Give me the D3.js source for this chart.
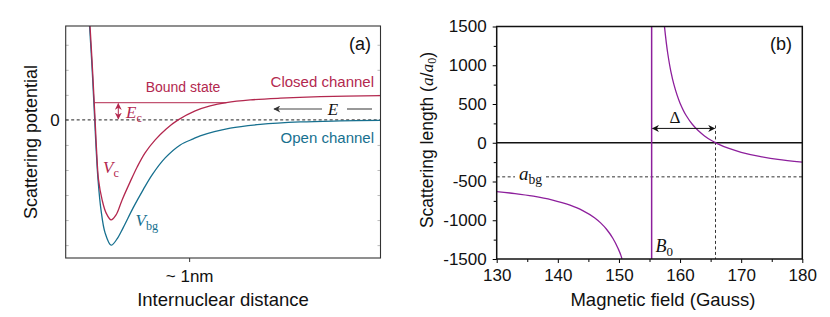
<!DOCTYPE html>
<html>
<head>
<meta charset="UTF-8">
<title>Feshbach resonance</title>
<script src="https://d3js.org/d3.v7.min.js"></script>
<style>
  body { margin: 0; background: #fff; }
  text { font-family: "Liberation Sans", Arial, sans-serif; fill: #111; }
  .serif { font-family: "Liberation Serif", "Times New Roman", serif; }
  .axis text { font-size: 17px; fill: #111; }
</style>
</head>
<body>
<svg id="chart" width="830" height="317"></svg>
<script>
// ---- panel (a): potential curves (r in nm, energy in arb. units) ----
const closedR = [0.197, 0.213, 0.230, 0.238, 0.250, 0.266, 0.295, 0.327, 0.368, 0.408, 0.457, 0.522, 0.579, 0.643, 0.725, 0.814, 0.911, 1.049, 1.170, 1.301, 1.495, 1.739, 2.063, 2.550];
const closedV = [1.02, 0.652, 0.217, 0, -0.326, -0.652, -0.869, -1.010, -1.086, -1.032, -0.869, -0.673, -0.511, -0.358, -0.217, -0.098, 0, 0.098, 0.152, 0.188, 0.217, 0.236, 0.252, 0.264];
const openR = [0.193, 0.210, 0.227, 0.235, 0.247, 0.262, 0.286, 0.319, 0.368, 0.416, 0.465, 0.546, 0.627, 0.700, 0.806, 0.928, 1.033, 1.089, 1.333, 1.576, 1.901, 2.226, 2.550];
const openV = [1.02, 0.652, 0.217, 0, -0.326, -0.652, -0.978, -1.227, -1.361, -1.293, -1.173, -0.956, -0.760, -0.597, -0.413, -0.272, -0.206, -0.174, -0.090, -0.049, -0.022, -0.011, -0.005];
const boundE = 0.188;
const boundR = [0.233, 1.301];
const rTickLabel = "~ 1nm";
const rTick = 1;

// ---- panel (b): scattering length vs field ----
const fieldLeft = [130, 133, 136, 139, 142, 144, 146, 147, 148, 149, 149.8, 150.4, 150.5];
const lengthLeft = [-630, -656, -690, -737, -806, -872, -968, -1034, -1119, -1232, -1354, -1473, -1500];
const fieldRight = [157.45, 158, 158.5, 159, 160, 161, 162, 163, 164, 165, 166, 168, 170, 173, 176, 180];
const lengthRight = [1500, 1145, 918, 749, 511, 352, 239, 154, 88, 35, -8, -74, -123, -176, -214, -250];
const B0 = 155.35;
const zeroCross = 165.8;
const aBg = -440;
const deltaArrowAt = 185;
const fieldTicks = [130, 140, 150, 160, 170, 180];
const fieldMinor = [135, 145, 155, 165, 175];
const lengthTicks = [-1500, -1000, -500, 0, 500, 1000, 1500];
const lengthMinor = [-1250, -750, -250, 250, 750, 1250];

const crimson = "#b3284f";
const teal = "#17708f";
const purple = "#8d1f9c";

const svg = d3.select("#chart");
const defs = svg.append("defs");

function marker(id, color, w, h) {
    defs.append("marker")
        .attr("id", id)
        .attr("viewBox", "0 0 10 10")
        .attr("refX", 9).attr("refY", 5)
        .attr("markerWidth", w).attr("markerHeight", h)
        .attr("orient", "auto-start-reverse")
        .attr("markerUnits", "userSpaceOnUse")
      .append("path")
        .attr("d", "M0,0 L10,5 L0,10 L3,5 Z")
        .attr("fill", color);
}
marker("arrK", "#111", 8, 7);
marker("arrG", "#333", 9, 7);
marker("arrC", crimson, 7, 7);

// ================= panel (a) =================
const xa = d3.scaleLinear().domain([0, 2.55]).range([65.7, 380.5]);
const ya = d3.scaleLinear().domain([-1.5, 1.02]).range([258, 26]);

const ga = svg.append("g");
defs.append("clipPath").attr("id", "clipA")
  .append("rect").attr("x", 65.7).attr("y", 26).attr("width", 314.8).attr("height", 232);

// faint ticks inside the box
const faint = d3.range(-1.36, 1.02, 0.272);
ga.append("g").attr("transform", `translate(${xa(0)},0)`)
    .call(d3.axisRight(ya).tickValues(faint).tickSize(3).tickFormat(""))
    .call(g => g.select(".domain").remove())
    .selectAll("line").attr("stroke", "#bbb");
ga.append("g").attr("transform", `translate(${xa(2.55)},0)`)
    .call(d3.axisLeft(ya).tickValues(faint).tickSize(3).tickFormat(""))
    .call(g => g.select(".domain").remove())
    .selectAll("line").attr("stroke", "#bbb");

// zero line
ga.append("line")
    .attr("x1", xa(0)).attr("x2", xa(2.55))
    .attr("y1", ya(0)).attr("y2", ya(0))
    .attr("stroke", "#222").attr("stroke-width", 1)
    .attr("stroke-dasharray", "3,2.5");

const lineA = d3.line().curve(d3.curveCatmullRom.alpha(0.5));
ga.append("path")
    .attr("clip-path", "url(#clipA)")
    .attr("d", lineA(openR.map((r, i) => [xa(r), ya(openV[i])])))
    .attr("fill", "none").attr("stroke", teal).attr("stroke-width", 1.3);
ga.append("path")
    .attr("clip-path", "url(#clipA)")
    .attr("d", lineA(closedR.map((r, i) => [xa(r), ya(closedV[i])])))
    .attr("fill", "none").attr("stroke", crimson).attr("stroke-width", 1.3);

// bound state level
ga.append("line")
    .attr("x1", xa(boundR[0])).attr("x2", xa(boundR[1]))
    .attr("y1", ya(boundE)).attr("y2", ya(boundE))
    .attr("stroke", crimson).attr("stroke-opacity", 0.8).attr("stroke-width", 1.2);

// E_c double arrow
ga.append("line")
    .attr("x1", 118.3).attr("x2", 118.3)
    .attr("y1", ya(boundE) + 1).attr("y2", ya(0) - 1)
    .attr("stroke", crimson).attr("stroke-width", 1)
    .attr("marker-start", "url(#arrC)").attr("marker-end", "url(#arrC)");

// E arrow
ga.append("line")
    .attr("x1", 322).attr("x2", 274).attr("y1", 109).attr("y2", 109)
    .attr("stroke", "#444").attr("stroke-width", 1.1)
    .attr("marker-end", "url(#arrG)");
ga.append("line")
    .attr("x1", 347).attr("x2", 372).attr("y1", 109).attr("y2", 109)
    .attr("stroke", "#444").attr("stroke-width", 1.1);
ga.append("text").attr("class", "serif")
    .attr("x", 333).attr("y", 114.5).attr("text-anchor", "middle")
    .attr("font-size", 17).attr("font-style", "italic").text("E");

// labels in (a)
function sub(g, x, y, main, subTxt, color, size) {
    const t = g.append("text").attr("class", "serif")
        .attr("x", x).attr("y", y).attr("font-size", size).style("fill", color);
    t.append("tspan").attr("font-style", "italic").text(main);
    t.append("tspan").attr("font-size", size * 0.72).attr("dy", 4).text(subTxt);
    return t;
}
sub(ga, 126, 117.5, "E", "c", crimson, 17);
sub(ga, 103, 173, "V", "c", crimson, 17);
sub(ga, 135.5, 226, "V", "bg", teal, 17);

ga.append("text").attr("x", 183).attr("y", 92).attr("text-anchor", "middle")
    .attr("font-size", 14).style("fill", crimson).text("Bound state");
ga.append("text").attr("x", 374).attr("y", 87).attr("text-anchor", "end")
    .attr("font-size", 15).style("fill", crimson).text("Closed channel");
ga.append("text").attr("x", 374).attr("y", 143).attr("text-anchor", "end")
    .attr("font-size", 15).style("fill", teal).text("Open channel");
ga.append("text").attr("x", 371).attr("y", 50).attr("text-anchor", "end")
    .attr("font-size", 18).text("(a)");

// axes of (a)
ga.append("g").attr("class", "axis").attr("transform", "translate(0,258)")
    .call(d3.axisBottom(xa).tickValues([rTick]).tickSize(4).tickPadding(8).tickFormat(() => rTickLabel))
    .call(g => g.select(".domain").remove())
    .call(g => g.selectAll("line").attr("stroke", "#333"))
    .call(g => g.selectAll("text").attr("font-size", 18));
ga.append("g").attr("class", "axis").attr("transform", `translate(${xa(0)},0)`)
    .call(d3.axisLeft(ya).tickValues([0]).tickSize(0).tickPadding(6).tickFormat(d3.format("d")))
    .call(g => g.select(".domain").remove());
ga.append("rect")
    .attr("x", xa(0)).attr("y", ya(1.02))
    .attr("width", xa(2.55) - xa(0)).attr("height", ya(-1.5) - ya(1.02))
    .attr("fill", "none").attr("stroke", "#333").attr("stroke-width", 1.1);

ga.append("text").attr("x", 223).attr("y", 306).attr("text-anchor", "middle")
    .attr("font-size", 18.5).text("Internuclear distance");
ga.append("text").attr("transform", "translate(37,142) rotate(-90)")
    .attr("text-anchor", "middle").attr("font-size", 18).text("Scattering potential");

// ================= panel (b) =================
const xb = d3.scaleLinear().domain([130, 180]).range([496.7, 802.3]);
const yb = d3.scaleLinear().domain([-1500, 1500]).range([259, 26.5]);
const gb = svg.append("g");
defs.append("clipPath").attr("id", "clipB")
  .append("rect").attr("x", 496.7).attr("y", 26.5).attr("width", 305.6).attr("height", 232.5);

// a_bg dashed line with gap for label
gb.append("line")
    .attr("x1", xb(130)).attr("x2", 515).attr("y1", yb(aBg)).attr("y2", yb(aBg))
    .attr("stroke", "#333").attr("stroke-dasharray", "3,2.5");
gb.append("line")
    .attr("x1", 546).attr("x2", xb(180)).attr("y1", yb(aBg)).attr("y2", yb(aBg))
    .attr("stroke", "#333").attr("stroke-dasharray", "3,2.5");
// dashed vertical at zero crossing
gb.append("line")
    .attr("x1", xb(zeroCross)).attr("x2", xb(zeroCross))
    .attr("y1", yb(deltaArrowAt) - 3).attr("y2", yb(-1500))
    .attr("stroke", "#333").attr("stroke-dasharray", "3,2.5");
// zero line
gb.append("line")
    .attr("x1", xb(130)).attr("x2", xb(180)).attr("y1", yb(0)).attr("y2", yb(0))
    .attr("stroke", "#111").attr("stroke-width", 1.5);

const lineB = d3.line().curve(d3.curveMonotoneX);
gb.append("path").attr("clip-path", "url(#clipB)")
    .attr("d", lineB(fieldLeft.map((b, i) => [xb(b), yb(lengthLeft[i])])))
    .attr("fill", "none").attr("stroke", purple).attr("stroke-width", 1.3);
gb.append("path").attr("clip-path", "url(#clipB)")
    .attr("d", d3.line().curve(d3.curveMonotoneY)(fieldRight.map((b, i) => [xb(b), yb(lengthRight[i])])))
    .attr("fill", "none").attr("stroke", purple).attr("stroke-width", 1.3);
gb.append("line")
    .attr("x1", xb(B0)).attr("x2", xb(B0)).attr("y1", yb(1500)).attr("y2", yb(-1500))
    .attr("stroke", purple).attr("stroke-width", 1.5);

// Delta arrow
gb.append("line")
    .attr("x1", xb(B0) + 1).attr("x2", xb(zeroCross) - 1)
    .attr("y1", yb(deltaArrowAt)).attr("y2", yb(deltaArrowAt))
    .attr("stroke", "#111").attr("stroke-width", 1)
    .attr("marker-start", "url(#arrK)").attr("marker-end", "url(#arrK)");
gb.append("text").attr("class", "serif")
    .attr("x", 675).attr("y", 123).attr("text-anchor", "middle")
    .attr("font-size", 17).text("\u0394");

sub(gb, 519, 180, "a", "bg", "#111", 19);
sub(gb, 655.5, 252, "B", "0", "#111", 18);

gb.append("text").attr("x", 792).attr("y", 50).attr("text-anchor", "end")
    .attr("font-size", 18).text("(b)");

// axes of (b)
gb.append("g").attr("class", "axis").attr("transform", `translate(0,${yb(-1500)})`)
    .call(d3.axisBottom(xb).tickValues(fieldTicks).tickSize(4).tickPadding(6).tickFormat(d3.format("d")))
    .call(g => g.select(".domain").remove());
gb.append("g").attr("transform", `translate(0,${yb(-1500)})`)
    .call(d3.axisBottom(xb).tickValues(fieldMinor).tickSize(3).tickFormat(""))
    .call(g => g.select(".domain").remove());
gb.append("g").attr("class", "axis").attr("transform", `translate(${xb(130)},0)`)
    .call(d3.axisLeft(yb).tickValues(lengthTicks).tickSize(4).tickPadding(6).tickFormat(d => String(d)))
    .call(g => g.select(".domain").remove());
gb.append("g").attr("transform", `translate(${xb(130)},0)`)
    .call(d3.axisLeft(yb).tickValues(lengthMinor).tickSize(3).tickFormat(""))
    .call(g => g.select(".domain").remove());
gb.append("rect")
    .attr("x", xb(130)).attr("y", yb(1500))
    .attr("width", xb(180) - xb(130)).attr("height", yb(-1500) - yb(1500))
    .attr("fill", "none").attr("stroke", "#111").attr("stroke-width", 1.5);

gb.append("text").attr("x", 663).attr("y", 306).attr("text-anchor", "middle")
    .attr("font-size", 18.5).text("Magnetic field (Gauss)");
const yl = gb.append("text").attr("transform", "translate(433,140) rotate(-90)")
    .attr("text-anchor", "middle").attr("font-size", 17.5);
yl.append("tspan").text("Scattering length (");
yl.append("tspan").attr("class", "serif").attr("font-style", "italic").text("a");
yl.append("tspan").text("/");
yl.append("tspan").attr("class", "serif").attr("font-style", "italic").text("a");
yl.append("tspan").attr("class", "serif").attr("font-size", 12).attr("dy", 3).text("0");
yl.append("tspan").attr("dy", -3).text(")");
</script>
</body>
</html>
